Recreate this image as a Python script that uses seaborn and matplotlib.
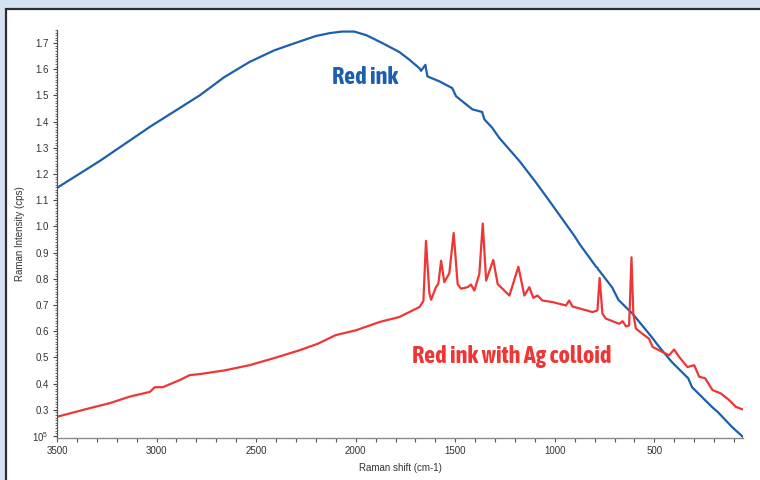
import numpy as np
import pandas as pd
import matplotlib
matplotlib.use("Agg")
import matplotlib.pyplot as plt
import seaborn as sns
from matplotlib import font_manager
from matplotlib.patches import Rectangle
from matplotlib.ticker import MultipleLocator, FixedLocator, FixedFormatter

# ---- data, intensity in 1e5 cps ----
ink_shift = [3500, 3285, 3034, 2784, 2660, 2533, 2410, 2282, 2200, 2131, 2070, 2007, 1946, 1866, 1781, 1731, 1680,
             1672, 1650, 1640, 1580, 1515, 1496, 1414, 1365, 1354, 1314, 1279, 1177, 1097,
             1027, 902, 877, 792, 787, 781, 712, 681, 627, 611, 541, 511, 476, 411, 330,
             311, 210, 180, 110, 55]
ink_int = [1.147, 1.25, 1.38, 1.50, 1.57, 1.628, 1.672, 1.706, 1.727, 1.738, 1.744, 1.744, 1.73, 1.70, 1.666, 1.637, 1.604,
           1.594, 1.617, 1.573, 1.554, 1.528, 1.497, 1.447, 1.437, 1.409, 1.376, 1.338, 1.249, 1.17,
           1.097, 0.964, 0.934, 0.845, 0.843, 0.835, 0.767, 0.72, 0.679, 0.668, 0.603, 0.575, 0.54,
           0.481, 0.42, 0.386, 0.31, 0.29, 0.234, 0.196]

colloid_shift = [3500, 3335, 3235, 3135, 3034, 3009, 2969, 2884, 2834, 2784, 2660, 2533, 2410, 2282, 2190, 2100,
                 2000, 1880, 1781, 1680, 1660, 1647, 1630, 1621, 1597, 1585, 1571, 1555, 1530,
                 1508, 1488, 1471, 1438, 1421, 1404, 1379, 1362, 1345, 1309, 1287, 1254, 1228,
                 1183, 1153, 1128, 1108, 1087, 1062, 1011, 944, 928, 911, 811, 786, 775, 761,
                 744, 676, 660, 642, 627, 615, 606, 593, 560, 527, 509, 459, 426, 401, 376,
                 334, 300, 275, 245, 208, 166, 125, 91, 57]
colloid_int = [0.273, 0.306, 0.325, 0.35, 0.368, 0.386, 0.386, 0.413, 0.432, 0.436, 0.45, 0.47, 0.497, 0.527, 0.552, 0.585,
               0.603, 0.635, 0.654, 0.692, 0.715, 0.945, 0.744, 0.72, 0.768, 0.781, 0.869, 0.787, 0.821,
               0.975, 0.78, 0.762, 0.768, 0.778, 0.755, 0.819, 1.011, 0.793, 0.872, 0.78, 0.755, 0.736,
               0.846, 0.736, 0.768, 0.727, 0.736, 0.717, 0.711, 0.698, 0.717, 0.694, 0.673, 0.679, 0.803, 0.667,
               0.648, 0.628, 0.638, 0.618, 0.622, 0.882, 0.668, 0.61, 0.59, 0.571, 0.54, 0.52, 0.508, 0.53, 0.502,
               0.463, 0.47, 0.426, 0.42, 0.375, 0.362, 0.337, 0.311, 0.301]

x_ticks = [3500, 3000, 2500, 2000, 1500, 1000, 500]
y_ticks = [0.2, 0.3, 0.4, 0.5, 0.6, 0.7, 0.8, 0.9, 1.0, 1.1, 1.2, 1.3, 1.4, 1.5, 1.6, 1.7]
y_tick_labels = ["10$^{5}$"] + ["%.1f" % v for v in y_ticks[1:]]

BLUE = "#1c5fae"
RED = "#ee3636"

sns.set_theme(style="white")
plt.rcParams["font.family"] = ["Liberation Sans", "DejaVu Sans"]
plt.rcParams["mathtext.fontset"] = "custom"
plt.rcParams["mathtext.rm"] = "Liberation Sans"

# pick a condensed / narrow bold face for the annotations if one is installed
narrow = None
for f in font_manager.fontManager.ttflist:
    n = f.name.lower()
    if ("narrow" in n or "condensed" in n) and f.weight in ("bold", 700):
        narrow = f.fname
        break
if narrow is None:
    for f in font_manager.fontManager.ttflist:
        if str(f.stretch).lower() in ("condensed", "semi-condensed", "extra-condensed") or \
           (isinstance(f.stretch, int) and f.stretch < 500):
            narrow = f.fname
            break
if narrow is not None:
    label_font = font_manager.FontProperties(fname=narrow, size=17.5, weight="bold")
else:
    label_font = font_manager.FontProperties(family="Liberation Sans", size=13.5, weight="bold")

fig = plt.figure(figsize=(7.6, 4.8), dpi=100)
fig.patch.set_facecolor("#d4e2f1")
panel = Rectangle((6 / 760, -0.05), 1.1, 1 - 9 / 480 + 0.05, transform=fig.transFigure,
                  facecolor="white", edgecolor="#2e2e2e", linewidth=1.6, zorder=-10)
fig.patches.append(panel)

ax = fig.add_axes([57 / 760, 1 - 438 / 480, (743 - 57) / 760, (438 - 30) / 480])
ax.set_facecolor("none")
ax.set_zorder(1)

df_ink = pd.DataFrame({"shift": ink_shift, "intensity": ink_int})
df_col = pd.DataFrame({"shift": colloid_shift, "intensity": colloid_int})
sns.lineplot(data=df_ink, x="shift", y="intensity", ax=ax, color=BLUE, linewidth=1.6)
sns.lineplot(data=df_col, x="shift", y="intensity", ax=ax, color=RED, linewidth=1.6)

ax.set_xlim(3500, 55)
ax.set_ylim(0.192, 1.75)

for s in ["top", "right"]:
    ax.spines[s].set_visible(False)
ax.spines["left"].set_color("#555555")
ax.spines["bottom"].set_color("#8a8a8a")
ax.spines["left"].set_linewidth(0.9)
ax.spines["bottom"].set_linewidth(1.0)

ax.xaxis.set_major_locator(FixedLocator(x_ticks))
ax.xaxis.set_minor_locator(MultipleLocator(100))
ax.yaxis.set_major_locator(FixedLocator(y_ticks))
ax.yaxis.set_major_formatter(FixedFormatter(y_tick_labels))
ax.yaxis.set_minor_locator(MultipleLocator(0.01))

ax.tick_params(axis="x", which="major", direction="out", length=3, width=0.8, color="#555555",
               labelsize=7, labelcolor="#333333", pad=3, bottom=True)
ax.tick_params(axis="x", which="minor", direction="out", length=3, width=0.8, color="#555555", bottom=True)
ax.tick_params(axis="y", which="major", direction="out", length=3, width=0.8, color="#444444",
               labelsize=7, labelcolor="#333333", pad=3, left=True)
ax.tick_params(axis="y", which="minor", direction="out", length=1.2, width=0.6, color="#555555", left=True)

ax.set_xlabel("Raman shift (cm-1)", fontsize=7, color="#333333", labelpad=5)
ax.set_ylabel("Raman Intensity (cps)", fontsize=7, color="#333333")
ax.yaxis.set_label_coords(-(57 - 25) / 686, 0.5)

ax.text(1955, 1.569, "Red ink", color=BLUE, fontproperties=label_font,
        ha="center", va="center")
ax.text(1219, 0.504, "Red ink with Ag colloid", color=RED, fontproperties=label_font,
        ha="center", va="center")

fig.savefig("out.png", dpi=100, facecolor=fig.get_facecolor())
